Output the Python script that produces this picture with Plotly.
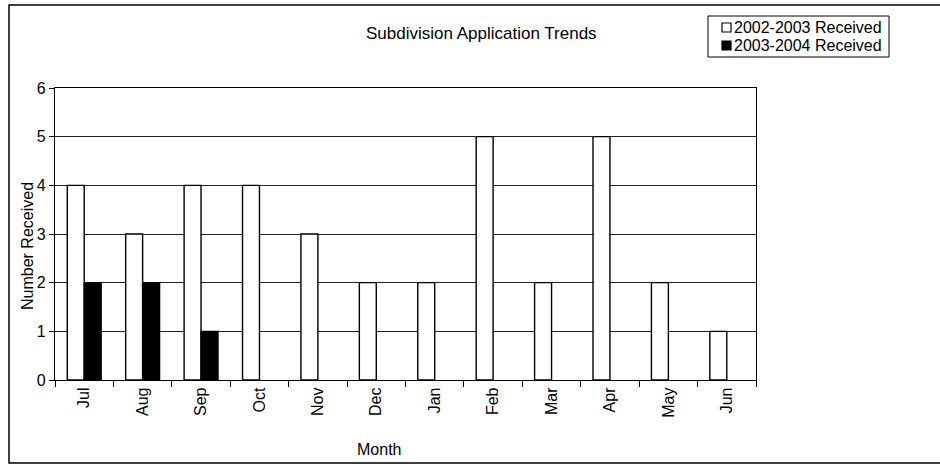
import plotly.graph_objects as go

months = ["Jul", "Aug", "Sep", "Oct", "Nov", "Dec", "Jan", "Feb", "Mar", "Apr", "May", "Jun"]
received_2002_2003 = [4, 3, 4, 4, 3, 2, 2, 5, 2, 5, 2, 1]
received_2003_2004 = [2, 2, 1, None, None, None, None, None, None, None, None, None]
series_names = ["2002-2003 Received", "2003-2004 Received"]
y_ticks = [0, 1, 2, 3, 4, 5, 6]

FONT = "Liberation Sans, Arial, sans-serif"
W, H = 940, 466
L, R, T, B = 55, 184, 88, 86
PW, PH = W - L - R, H - T - B


def px(x):
    return (x - L) / PW


def py(y):
    return (H - B - y) / PH


fig = go.Figure()
fig.add_trace(go.Bar(x=months, y=received_2002_2003, name=series_names[0],
                     marker=dict(color="white", line=dict(color="black", width=1.4)),
                     showlegend=False))
fig.add_trace(go.Bar(x=months, y=received_2003_2004, name=series_names[1],
                     marker=dict(color="black", line=dict(color="black", width=1.4)),
                     showlegend=False))

shapes = []
# outer chart border
shapes.append(dict(type="rect", xref="paper", yref="paper",
                   x0=px(9), x1=px(948), y0=py(463), y1=py(5),
                   line=dict(color="black", width=1.5), fillcolor="rgba(0,0,0,0)", layer="below"))
# legend box
shapes.append(dict(type="rect", xref="paper", yref="paper",
                   x0=px(708), x1=px(889), y0=py(57), y1=py(16),
                   line=dict(color="black", width=1), fillcolor="white"))
# legend swatches
shapes.append(dict(type="rect", xref="paper", yref="paper",
                   x0=px(722), x1=px(731), y0=py(32), y1=py(23),
                   line=dict(color="black", width=1.2), fillcolor="white"))
shapes.append(dict(type="rect", xref="paper", yref="paper",
                   x0=px(722), x1=px(731), y0=py(50), y1=py(41),
                   line=dict(color="black", width=1.2), fillcolor="black"))

annotations = [
    dict(text="Subdivision Application Trends", xref="paper", yref="paper",
         x=px(481), y=py(34), xanchor="center", yanchor="middle", showarrow=False,
         font=dict(size=17, color="black", family=FONT)),
    dict(text=series_names[0], xref="paper", yref="paper", x=px(732), y=py(27.5),
         xanchor="left", yanchor="middle", showarrow=False,
         font=dict(size=16, color="black", family=FONT)),
    dict(text=series_names[1], xref="paper", yref="paper", x=px(732), y=py(45.5),
         xanchor="left", yanchor="middle", showarrow=False,
         font=dict(size=16, color="black", family=FONT)),
    dict(text="Month", xref="paper", yref="paper", x=px(379), y=py(449),
         xanchor="center", yanchor="middle", showarrow=False,
         font=dict(size=16, color="black", family=FONT)),
    dict(text="Number Received", xref="paper", yref="paper", x=px(28), y=py(246),
         xanchor="center", yanchor="middle", textangle=-90, showarrow=False,
         font=dict(size=16, color="black", family=FONT)),
]

fig.update_layout(
    width=W, height=H,
    margin=dict(l=L, r=R, t=T, b=B),
    paper_bgcolor="white", plot_bgcolor="white",
    barmode="group", bargap=0.42, bargroupgap=0,
    font=dict(family=FONT, color="black", size=16),
    shapes=shapes, annotations=annotations,
)
fig.update_xaxes(type="category", tickangle=-90, tickson="boundaries",
                 ticks="outside", ticklen=6, tickcolor="black", tickwidth=1,
                 showline=True, linecolor="black", linewidth=1.2, mirror=True,
                 showgrid=False, tickfont=dict(size=16, family=FONT, color="black"))
fig.update_yaxes(range=[0, 6], tickvals=y_ticks, ticks="outside", ticklen=5,
                 tickcolor="black", tickwidth=1, showline=True, linecolor="black",
                 linewidth=1.2, mirror=True, showgrid=True, gridcolor="#222222",
                 gridwidth=1, zeroline=False,
                 tickfont=dict(size=16, family=FONT, color="black"))

fig.write_html("out.html", config={"displayModeBar": False})

# remove the default page margin so the figure sits at the window's top-left corner
with open("out.html", "r", encoding="utf-8") as f:
    html = f.read()
html = html.replace("<head>", "<head><style>html,body{margin:0;padding:0;overflow:hidden;}</style>", 1)
with open("out.html", "w", encoding="utf-8") as f:
    f.write(html)
